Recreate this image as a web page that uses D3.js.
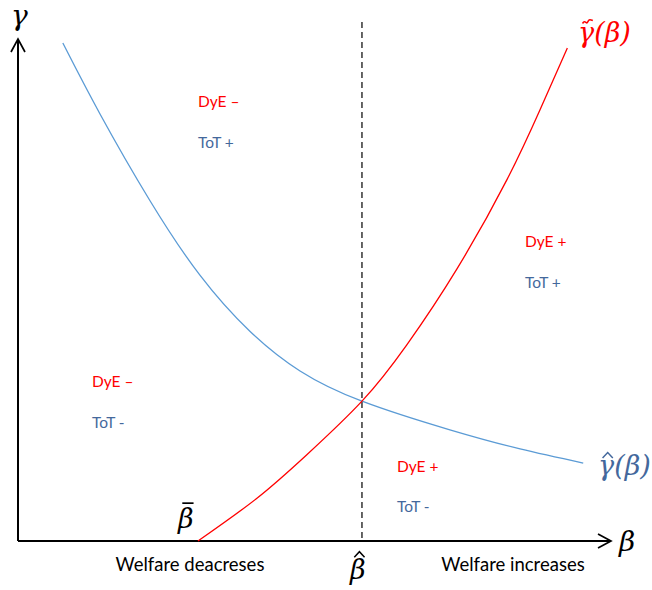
<!DOCTYPE html>
<html>
<head>
<meta charset="utf-8">
<script src="https://cdn.jsdelivr.net/npm/d3@7"></script>
<style>
  html, body { margin: 0; padding: 0; background: #fff; }
  svg { display: block; }
</style>
</head>
<body>
<svg id="chart" width="652" height="590"></svg>
<script>
// ---- data (abstract units) ----
const blueBeta  = [0.76, 1.39, 2.24, 3.08, 3.93, 4.78, 5.83, 7.32, 8.51, 9.58];
const blueGamma = [9.90, 8.49, 6.76, 5.29, 4.17, 3.38, 2.78, 2.21, 1.83, 1.55];
const redBeta   = [3.05, 4.05, 4.90, 5.83, 6.59, 7.44, 8.29, 8.85, 9.31];
const redGamma  = [0.00, 0.85, 1.72, 2.78, 3.90, 5.41, 7.19, 8.58, 9.80];
const betaHat = 5.83;
const betaBar = 3.05;
const dyeLabels = ["DyE \u2013", "DyE \u2013", "DyE +", "DyE +"];
const totLabels = ["ToT +", "ToT -", "ToT +", "ToT -"];
const welfareLabels = ["Welfare deacreses", "Welfare increases"];

// ---- layout ----
const svg = d3.select("#chart");
const x = d3.scaleLinear().domain([0, 10]).range([18, 608]);
const y = d3.scaleLinear().domain([0, 10]).range([541, 38]);

const RED = "#ff0000", BLUE = "#5b9bd5", TEXTBLUE = "#44689c";

// axes
const axisG = svg.append("g").attr("stroke", "#000").attr("fill", "none").attr("stroke-width", 2);
axisG.append("line").attr("x1", x(0)).attr("y1", y(0)).attr("x2", 611).attr("y2", y(0));
axisG.append("line").attr("x1", x(0)).attr("y1", y(0)).attr("x2", x(0)).attr("y2", 39);
axisG.append("path").attr("stroke-width", 1.7).attr("stroke-linejoin", "miter")
  .attr("d", `M${x(0)-7},${52} L${x(0)},${39} L${x(0)+7},${52}`);
axisG.append("path").attr("stroke-width", 1.7).attr("stroke-linejoin", "miter")
  .attr("d", `M${598},${y(0)-7} L${611},${y(0)} L${598},${y(0)+7}`);

// dashed vertical at beta hat
svg.append("line")
  .attr("x1", x(betaHat)).attr("x2", x(betaHat))
  .attr("y1", 22).attr("y2", y(0))
  .attr("stroke", "#000").attr("stroke-width", 1.2)
  .attr("stroke-dasharray", "6,4");

const line = d3.line().x(d => x(d[0])).y(d => y(d[1])).curve(d3.curveNatural);

svg.append("path")
  .datum(d3.zip(blueBeta, blueGamma))
  .attr("d", line).attr("fill", "none").attr("stroke", BLUE).attr("stroke-width", 1.3);
svg.append("path")
  .datum(d3.zip(redBeta, redGamma))
  .attr("d", line).attr("fill", "none").attr("stroke", RED).attr("stroke-width", 1.3);

// math labels
const mathFont = "'DejaVu Serif', 'Liberation Serif', serif";
function mathText(txt, px, py, size, color, anchor) {
  return svg.append("text").attr("x", px).attr("y", py)
    .attr("font-family", mathFont).attr("font-style", "italic")
    .attr("font-size", size).attr("fill", color)
    .attr("text-anchor", anchor || "start").text(txt);
}
// accent over first char of a text element
function accent(t, kind, topFrac, color, size) {
  const node = t.node();
  const ext = node.getExtentOfChar(0);
  const baseline = +t.attr("y");
  const cx = ext.x + ext.width / 2 + size * 0.06;
  const ay = baseline - topFrac * size;
  const w = size * 0.38;
  let d;
  if (kind === "tilde") {
    d = `M${cx - w/2},${ay + 1.5} C${cx - w/4},${ay - 3} ${cx - w/8},${ay + 3} ${cx},${ay} S${cx + w/4},${ay - 2.5} ${cx + w/2},${ay - 1.5}`;
    svg.append("path").attr("d", d).attr("fill", "none").attr("stroke", color).attr("stroke-width", 1.6);
  } else if (kind === "hat") {
    d = `M${cx - w/2},${ay + 3} L${cx},${ay - 2.5} L${cx + w/2},${ay + 3}`;
    svg.append("path").attr("d", d).attr("fill", "none").attr("stroke", color).attr("stroke-width", 1.5);
  } else {
    svg.append("line").attr("x1", cx - w/2).attr("x2", cx + w/2 + 1).attr("y1", ay).attr("y2", ay)
      .attr("stroke", color).attr("stroke-width", 1.7);
  }
}

mathText("\u03B3", 11, 25, 28, "#000");
mathText("\u03B2", 619, 551, 28, "#000");
const gTil = mathText("\u03B3(\u03B2)", 578, 42, 27, RED);
accent(gTil, "tilde", 0.74, RED, 27);
const gHat = mathText("\u03B3(\u03B2)", 598, 475, 27, TEXTBLUE);
accent(gHat, "hat", 0.74, TEXTBLUE, 27);
const bBar = mathText("\u03B2", 178, 528, 27, "#000");
accent(bBar, "bar", 0.92, "#000", 27);
const bHat = mathText("\u03B2", 350, 579, 27, "#000");
accent(bHat, "hat", 0.92, "#000", 27);

// region labels
const sans = "Lato, 'Open Sans', sans-serif";
const regionPos = [[198, 107, 148], [92, 387, 428], [525, 247, 288], [397, 472, 512]];
regionPos.forEach((p, i) => {
  svg.append("text").attr("x", p[0]).attr("y", p[1])
    .attr("font-family", sans).attr("font-size", 15.5).attr("fill", RED).text(dyeLabels[i]);
  svg.append("text").attr("x", p[0]).attr("y", p[2])
    .attr("font-family", sans).attr("font-size", 15.5).attr("fill", TEXTBLUE).text(totLabels[i]);
});

// welfare labels
svg.append("text").attr("x", 190).attr("y", 571).attr("text-anchor", "middle")
  .attr("font-family", sans).attr("font-size", 18.5).attr("fill", "#000").text(welfareLabels[0]);
svg.append("text").attr("x", 513).attr("y", 571).attr("text-anchor", "middle")
  .attr("font-family", sans).attr("font-size", 18.5).attr("fill", "#000").text(welfareLabels[1]);
</script>
</body>
</html>
